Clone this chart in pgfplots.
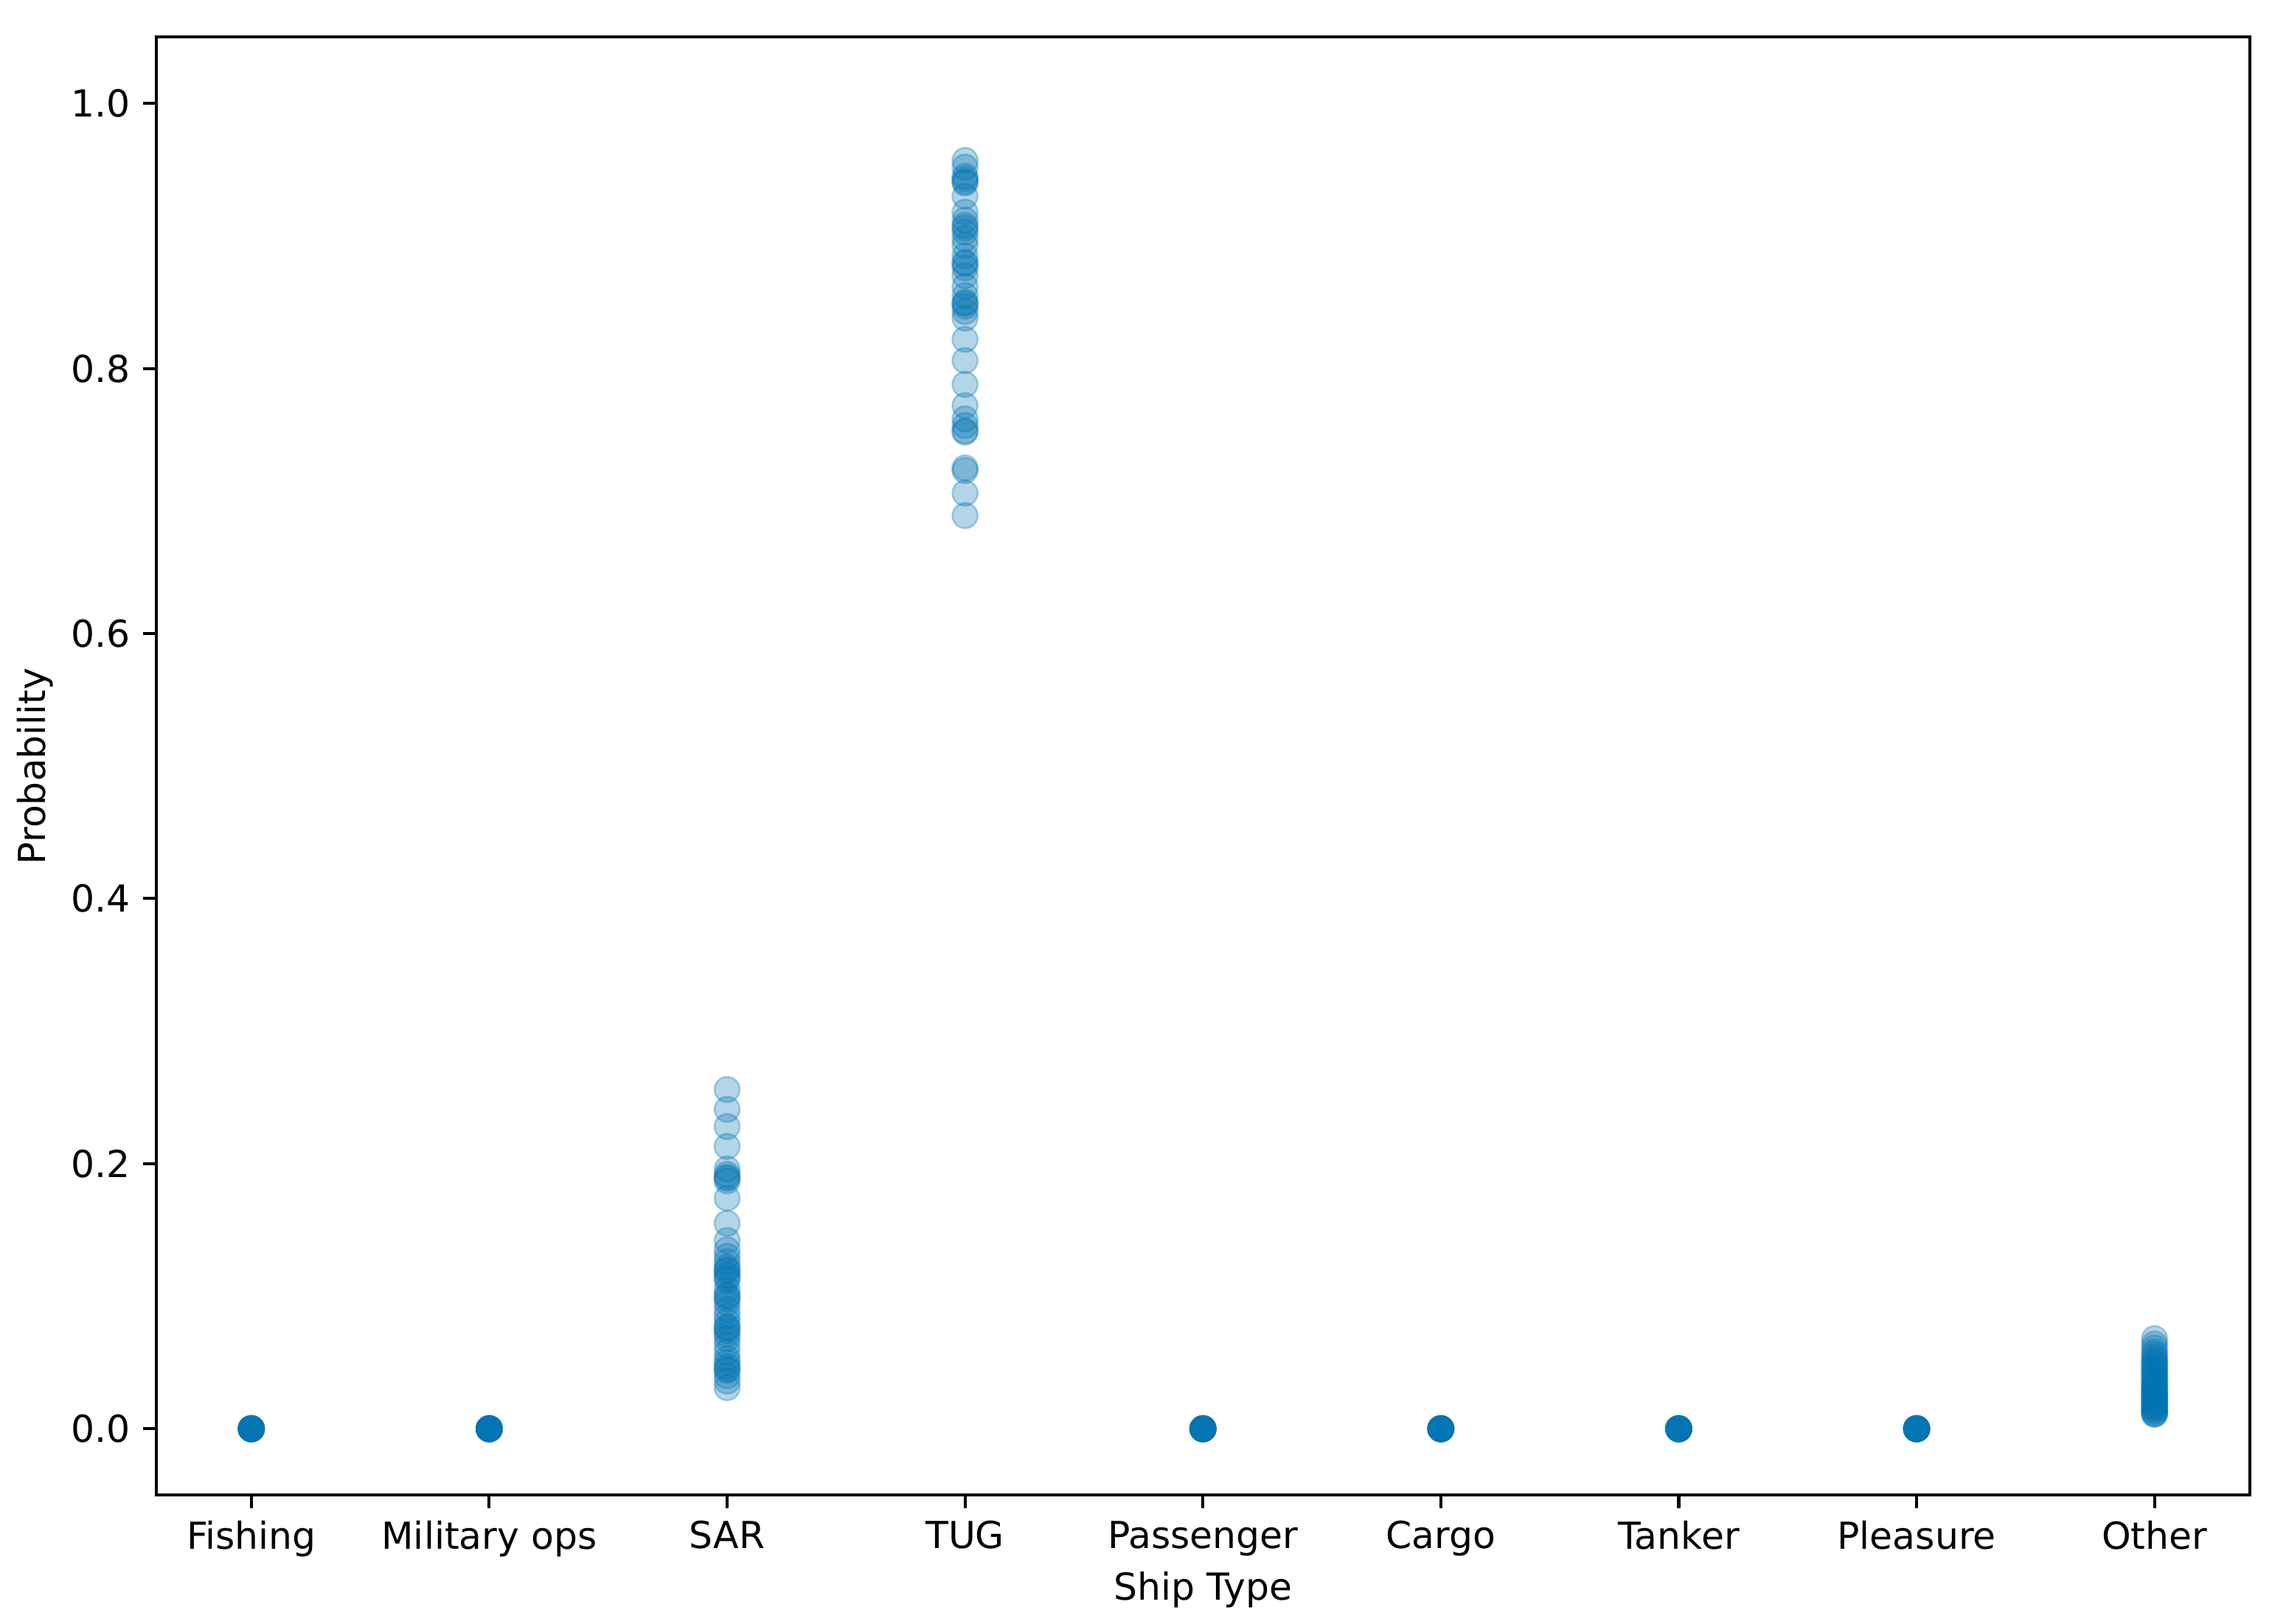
\documentclass[border=0pt]{standalone}
\usepackage{fontspec}
\setmainfont{DejaVu Sans}
\usepackage{pgfplots}
\pgfplotsset{compat=1.18}
\definecolor{cbblue}{RGB}{1,115,178}

\begin{document}
\begin{tikzpicture}
\path[use as bounding box] (-42pt,-34.5pt) rectangle (569pt,402pt);
\begin{axis}[
  scale only axis,
  width=563pt, height=392pt,
  xmin=-0.4, xmax=8.4,
  ymin=-0.05, ymax=1.05,
  xtick={0,1,2,3,4,5,6,7,8},
  xticklabels={Fishing,Military ops,SAR,TUG,Passenger,Cargo,Tanker,Pleasure,Other},
  ytick={0,0.2,0.4,0.6,0.8,1.0},
  yticklabel style={/pgf/number format/fixed,/pgf/number format/precision=1,/pgf/number format/fixed zerofill},
  /pgf/number format/assume math mode=true,
  tick align=outside,
  tick pos=left,
  major tick length=3.5pt,
  axis line style={line width=0.8pt},
  every tick/.style={black,line width=0.8pt},
  tick label style={font=\fontsize{10}{12}\selectfont},
  label style={font=\fontsize{10}{12}\selectfont},
  xlabel={Ship Type},
  ylabel={Probability},
  xlabel style={yshift=3pt},
  ylabel style={yshift=-2pt},
]
% every point drawn with alpha 0.3, so stacks at the same value look solid
\addplot[only marks, mark=*, mark size=3.4pt,
  mark options={draw=cbblue, fill=cbblue, draw opacity=0.3, fill opacity=0.3, line width=0.5pt}]
  table {
x y
0 0
0 0
0 0
0 0
0 0
0 0
0 0
0 0
0 0
0 0
0 0
0 0
1 0
1 0
1 0
1 0
1 0
1 0
1 0
1 0
1 0
1 0
1 0
1 0
2 0.256
2 0.241
2 0.228
2 0.213
2 0.196
2 0.192
2 0.189
2 0.190
2 0.187
2 0.174
2 0.155
2 0.142
2 0.135
2 0.130
2 0.126
2 0.122
2 0.120
2 0.119
2 0.116
2 0.114
2 0.112
2 0.105
2 0.101
2 0.100
2 0.098
2 0.095
2 0.090
2 0.085
2 0.081
2 0.077
2 0.076
2 0.074
2 0.071
2 0.068
2 0.063
2 0.058
2 0.053
2 0.050
2 0.047
2 0.045
2 0.044
2 0.040
2 0.036
2 0.031
3 0.957
3 0.952
3 0.945
3 0.943
3 0.941
3 0.940
3 0.930
3 0.918
3 0.912
3 0.908
3 0.906
3 0.903
3 0.898
3 0.893
3 0.885
3 0.880
3 0.879
3 0.876
3 0.870
3 0.862
3 0.855
3 0.850
3 0.849
3 0.847
3 0.843
3 0.838
3 0.822
3 0.806
3 0.788
3 0.772
3 0.762
3 0.757
3 0.753
3 0.752
3 0.725
3 0.723
3 0.706
3 0.689
4 0
4 0
4 0
4 0
4 0
4 0
4 0
4 0
4 0
4 0
4 0
4 0
5 0
5 0
5 0
5 0
5 0
5 0
5 0
5 0
5 0
5 0
5 0
5 0
6 0
6 0
6 0
6 0
6 0
6 0
6 0
6 0
6 0
6 0
6 0
6 0
7 0
7 0
7 0
7 0
7 0
7 0
7 0
7 0
7 0
7 0
7 0
7 0
8 0.068
8 0.064
8 0.061
8 0.058
8 0.056
8 0.054
8 0.052
8 0.050
8 0.049
8 0.047
8 0.046
8 0.044
8 0.043
8 0.041
8 0.040
8 0.038
8 0.036
8 0.035
8 0.034
8 0.032
8 0.031
8 0.030
8 0.029
8 0.028
8 0.027
8 0.026
8 0.025
8 0.024
8 0.023
8 0.022
8 0.021
8 0.020
8 0.019
8 0.018
8 0.017
8 0.016
8 0.015
8 0.014
8 0.013
8 0.012
8 0.011
8 0.011
};
\end{axis}
\end{tikzpicture}
\end{document}
